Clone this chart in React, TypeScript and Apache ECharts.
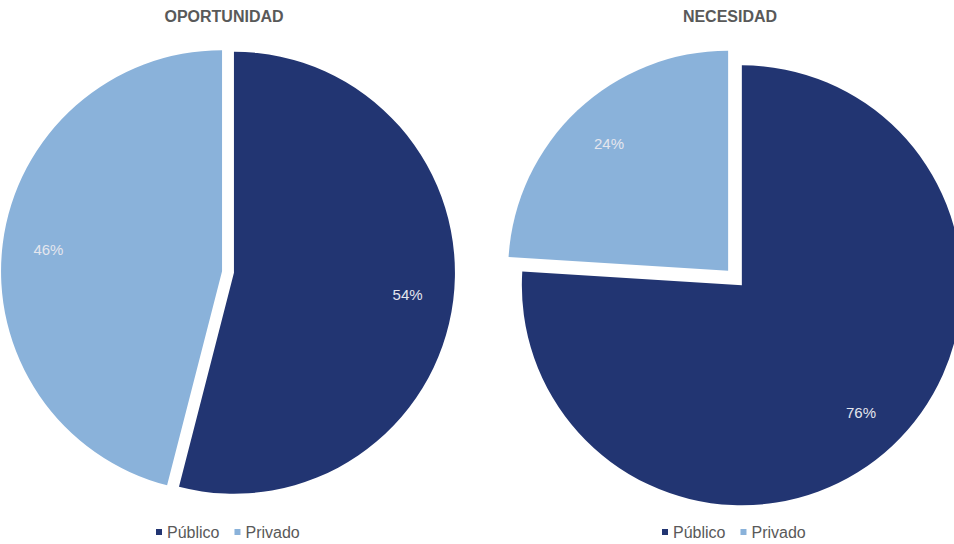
import React, { useEffect, useRef } from "react";
import * as echarts from "echarts";

const categories = ["Público", "Privado"];
const oportunidadValues = [54, 46];
const necesidadValues = [76, 24];
const titles = ["OPORTUNIDAD", "NECESIDAD"];
const colors = ["#223572", "#8AB2DA"];

export default function App() {
  const ref = useRef<HTMLDivElement>(null);
  useEffect(() => {
    document.body.style.margin = "0";
    const chart = echarts.init(ref.current!, null, { renderer: "svg" });
    const font = "'Liberation Sans', Arial, sans-serif";
    const mk = (vals: number[]) =>
      categories.map((n, i) => ({
        name: n,
        value: vals[i],
        selected: true,
        itemStyle: { color: colors[i] },
      }));
    const pies = [
      { center: [228, 272], r: 221, off: 6, vals: oportunidadValues },
      { center: [735, 278], r: 220, off: 10, vals: necesidadValues },
    ];
    const series: any[] = [];
    pies.forEach((p) => {
      series.push({
        type: "pie",
        center: p.center,
        radius: [0, p.r],
        startAngle: 90,
        clockwise: true,
        selectedMode: "multiple",
        selectedOffset: p.off,
        silent: true,
        label: { show: false },
        labelLine: { show: false },
        emphasis: { disabled: true },
        data: mk(p.vals),
      });
      series.push({
        type: "pie",
        center: p.center,
        radius: [p.r - 98, p.r],
        startAngle: 90,
        clockwise: true,
        selectedMode: "multiple",
        selectedOffset: p.off,
        silent: true,
        legendHoverLink: false,
        itemStyle: { color: "transparent" },
        label: {
          show: true,
          position: "inside",
          formatter: "{c}%",
          color: "#E4E6EE",
          fontSize: 15,
          fontFamily: font,
        },
        labelLine: { show: false },
        emphasis: { disabled: true },
        data: categories.map((n, i) => ({
          name: n + " ",
          value: p.vals[i],
          selected: true,
          itemStyle: { color: "transparent" },
        })),
      });
    });
    chart.setOption({
      animation: false,
      title: [
        {
          text: titles[0],
          left: 219,
          top: 3,
          textAlign: "center",
          textStyle: { fontSize: 16, fontWeight: "bold", color: "#595959", fontFamily: font },
        },
        {
          text: titles[1],
          left: 725,
          top: 3,
          textAlign: "center",
          textStyle: { fontSize: 16, fontWeight: "bold", color: "#595959", fontFamily: font },
        },
      ],
      legend: [0, 1].map((k) => ({
        data: categories,
        left: k === 0 ? 151 : 657,
        top: 519,
        icon: "rect",
        itemWidth: 6,
        itemHeight: 6,
        itemGap: 15,
        selectedMode: false,
        textStyle: { fontSize: 16, color: "#595959", fontFamily: font, padding: [0, 0, 0, 0] },
      })),
      series,
    });
    return () => chart.dispose();
  }, []);
  return <div ref={ref} style={{ width: 954, height: 544 }} />;
}
